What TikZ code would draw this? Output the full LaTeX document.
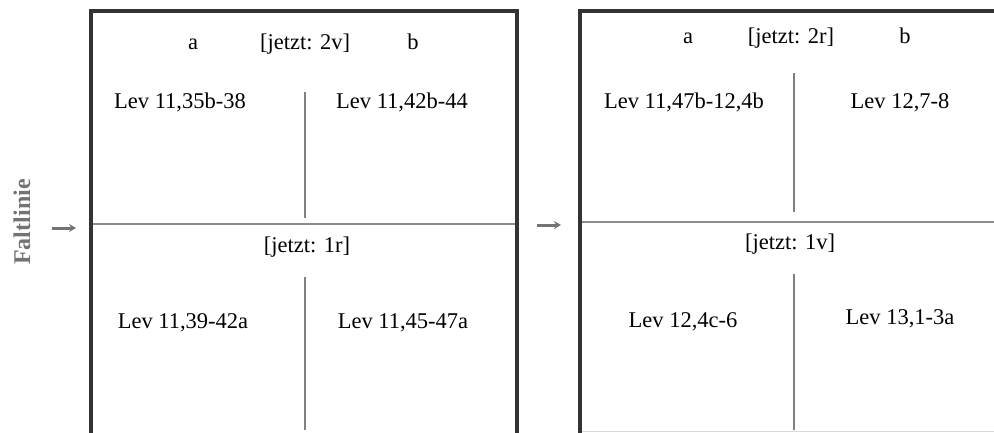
\documentclass[tikz,border=0pt]{standalone}
\usepackage{fontspec}
\setmainfont{Liberation Serif}
\usepackage{xcolor}
\usetikzlibrary{arrows.meta,positioning,calc}

\begin{document}
\begin{tikzpicture}[
  x=1pt, y=-1pt,
  >=Stealth,
  lbl/.style={font=\fontsize{22.5}{26}\selectfont, inner sep=0pt, anchor=base},
  frame/.style={draw=black!80, line width=4pt},
  hdiv/.style={draw=black!45, line width=2.2pt},
  vdiv/.style={draw=black!50, line width=1.4pt},
  falt/.style={draw=black!55, line width=3pt, -{Stealth[length=7pt,width=8pt]}}
]
\useasboundingbox (0,0) rectangle (994,432);

% ==================== Faltlinie ====================
\node (falt) [rotate=90, font=\fontsize{24}{28}\selectfont\bfseries, text=black!55, inner sep=0pt] at (22,222) {Faltlinie};
\coordinate (arrLa) at (52,228);
\coordinate (arrLb) at (76,228);
\draw[falt] (arrLa) -- (arrLb);
\coordinate (arrMa) at (537,225);
\coordinate (arrMb) at (561,225);
\draw[falt] (arrMa) -- (arrMb);

% ==================== Blatt 1 (links) ====================
\draw[frame] (91,434) -- (91,11) -- (517,11) -- (517,434);
\draw[hdiv] (93,224) -- (515,224);
\draw[vdiv] (305,92) -- (305,218);
\draw[vdiv] (305,277) -- (305,430);

\node (la)   [lbl] at (193,49) {a};
\node (ljv)  [lbl] at (305,49) {[jetzt: 2v]};
\node (lb)   [lbl] at (413,49) {b};
\node (lva)  [lbl] at (180,108) {Lev 11,35b-38};
\node (lvb)  [lbl] at (402,108) {Lev 11,42b-44};
\node (ljr)  [lbl] at (307,252) {[jetzt: 1r]};
\node (lra)  [lbl] at (183,328) {Lev 11,39-42a};
\node (lrb)  [lbl] at (403,328) {Lev 11,45-47a};

% ==================== Blatt 2 (rechts) ====================
\draw[frame] (580,434) -- (580,11) -- (998,11);
\draw[hdiv] (582,222) -- (994,222);
\draw[vdiv] (794,73) -- (794,212);
\draw[vdiv] (794,274) -- (794,430);
\draw[draw=black!15, line width=1pt] (582,431) -- (994,431);

\node (ra)   [lbl] at (688,43) {a};
\node (rjv)  [lbl] at (791,43) {[jetzt: 2r]};
\node (rb)   [lbl] at (905,43) {b};
\node (rva)  [lbl] at (684,108) {Lev 11,47b-12,4b};
\node (rvb)  [lbl] at (900,108) {Lev 12,7-8};
\node (rjr)  [lbl] at (790,249) {[jetzt: 1v]};
\node (rra)  [lbl] at (683,327) {Lev 12,4c-6};
\node (rrb)  [lbl] at (900,324) {Lev 13,1-3a};
\end{tikzpicture}
\end{document}
